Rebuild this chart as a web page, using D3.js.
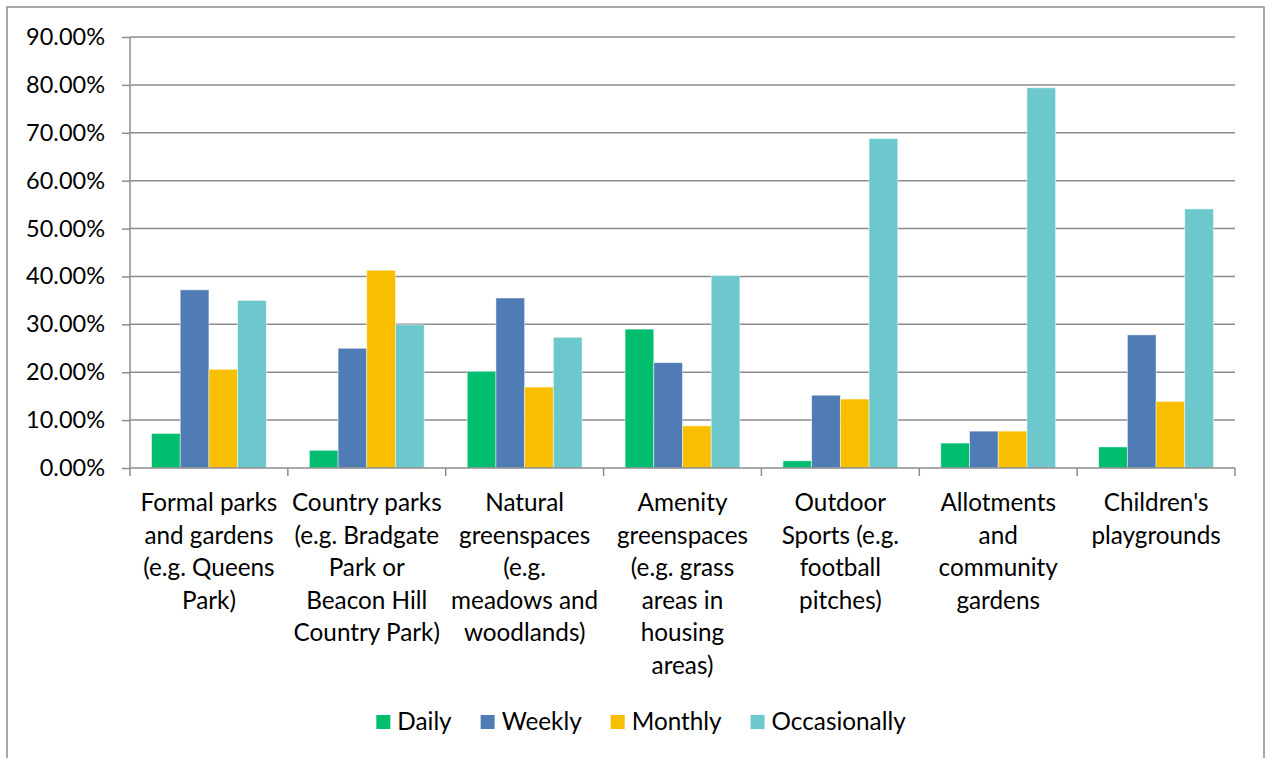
<!DOCTYPE html>
<html>
<head>
    <meta charset="utf-8">
    <title>Greenspace visits</title>
    <script src="https://cdn.jsdelivr.net/npm/d3@7"></script>
    <style>
        body { margin: 0; background: #fff; }
        text { font-family: Lato, "Open Sans", sans-serif; fill: #000; }
    </style>
</head>
<body>
<script>
    // chart data
    var categories = [
        ["Formal parks", "and gardens", "(e.g. Queens", "Park)"],
        ["Country parks", "(e.g. Bradgate", "Park or", "Beacon Hill", "Country Park)"],
        ["Natural", "greenspaces", "(e.g.", "meadows and", "woodlands)"],
        ["Amenity", "greenspaces", "(e.g. grass", "areas in", "housing", "areas)"],
        ["Outdoor", "Sports (e.g.", "football", "pitches)"],
        ["Allotments", "and", "community", "gardens"],
        ["Children's", "playgrounds"]
    ];
    var seriesNames = ["Daily", "Weekly", "Monthly", "Occasionally"];
    var daily = [7.2, 3.7, 20.2, 29.0, 1.5, 5.2, 4.4];
    var weekly = [37.2, 25.0, 35.5, 22.0, 15.2, 7.7, 27.8];
    var monthly = [20.6, 41.3, 16.9, 8.8, 14.4, 7.7, 13.9];
    var occasionally = [35.0, 29.9, 27.3, 40.2, 68.8, 79.4, 54.1];
    var yTicks = [0, 10, 20, 30, 40, 50, 60, 70, 80, 90];

    var series = [daily, weekly, monthly, occasionally];
    var colors = ["#00BE6E", "#4F7CB5", "#F8BE00", "#6CC8CC"];

    var width = 1266;
    var height = 758;
    var margin = {top: 37, right: 31, bottom: 290, left: 130};
    var tickFont = 23.5;
    var labelFont = 24.3;

    var svg = d3.select("body")
        .append("svg")
        .attr("width", width)
        .attr("height", height);

    // outer frame, cut by the bottom of the picture
    svg.append("rect")
        .attr("x", 7).attr("y", 7)
        .attr("width", 1257).attr("height", 780)
        .attr("fill", "none")
        .attr("stroke", "#8c8c8c")
        .attr("stroke-width", 1.5);

    var x0 = d3.scaleBand()
        .domain(d3.range(categories.length))
        .range([margin.left, width - margin.right]);

    // gap width 150%: group of 4 bars + 1.5 bar of gap
    var x1 = d3.scaleBand()
        .domain(d3.range(series.length))
        .range([x0.bandwidth() * 0.75 / 5.5, x0.bandwidth() * (1 - 0.75 / 5.5)])
        .padding(0);

    var y = d3.scaleLinear()
        .domain([0, 90])
        .range([height - margin.bottom, margin.top]);

    // gridlines
    svg.append("g")
        .selectAll("line")
        .data(yTicks.slice(1))
        .enter()
        .append("line")
        .attr("x1", margin.left)
        .attr("x2", width - margin.right)
        .attr("y1", function(d){ return y(d); })
        .attr("y2", function(d){ return y(d); })
        .attr("stroke", "#8c8c8c")
        .attr("stroke-width", 1.5);

    // bars
    var groups = svg.append("g")
        .selectAll("g")
        .data(categories)
        .enter()
        .append("g")
        .attr("transform", function(d, i){ return "translate(" + x0(i) + ",0)"; });

    groups.selectAll("rect")
        .data(function(d, i){
            return series.map(function(s, k){ return {k: k, v: s[i]}; });
        })
        .enter()
        .append("rect")
        .attr("x", function(d){ return x1(d.k); })
        .attr("width", x1.bandwidth())
        .attr("y", function(d){ return y(d.v); })
        .attr("height", function(d){ return y(0) - y(d.v); })
        .attr("fill", function(d){ return colors[d.k]; })
        .attr("stroke", "rgba(255,255,255,0.6)")
        .attr("stroke-width", 0.8);

    // y axis
    var yAxis = d3.axisLeft(y)
        .tickValues(yTicks)
        .tickSize(8)
        .tickPadding(17)
        .tickFormat(function(d){ return d.toFixed(2) + "%"; });

    var gy = svg.append("g")
        .attr("transform", "translate(" + margin.left + ",0)")
        .call(yAxis);
    gy.select(".domain").attr("stroke", "#8c8c8c").attr("stroke-width", 1.5)
        .attr("d", "M0," + y(90) + "V" + y(0));
    gy.selectAll(".tick line").attr("stroke", "#8c8c8c").attr("stroke-width", 1.5);
    gy.selectAll(".tick text")
        .attr("font-family", "Lato, sans-serif")
        .attr("font-size", tickFont)
        .attr("fill", "#000");

    // x axis with ticks between categories
    var xEdges = d3.range(categories.length + 1).map(function(i){
        return i < categories.length ? x0(i) : x0(i - 1) + x0.bandwidth();
    });
    svg.append("line")
        .attr("x1", margin.left).attr("x2", width - margin.right)
        .attr("y1", y(0)).attr("y2", y(0))
        .attr("stroke", "#8c8c8c").attr("stroke-width", 1.5);
    svg.append("g")
        .selectAll("line")
        .data(xEdges)
        .enter()
        .append("line")
        .attr("x1", function(d){ return d; })
        .attr("x2", function(d){ return d; })
        .attr("y1", y(0))
        .attr("y2", y(0) + 8)
        .attr("stroke", "#8c8c8c")
        .attr("stroke-width", 1.5);

    // category labels
    var labels = svg.append("g")
        .selectAll("text")
        .data(categories)
        .enter()
        .append("text")
        .attr("text-anchor", "middle")
        .attr("font-size", labelFont)
        .attr("x", function(d, i){ return x0(i) + x0.bandwidth() / 2; })
        .attr("y", 511);

    labels.selectAll("tspan")
        .data(function(d){ return d; })
        .enter()
        .append("tspan")
        .attr("x", function(){ return d3.select(this.parentNode).attr("x"); })
        .attr("dy", function(d, i){ return i === 0 ? 0 : 32.5; })
        .text(function(d){ return d; });

    // legend
    var legend = svg.append("g");
    var items = legend.selectAll("g")
        .data(seriesNames)
        .enter()
        .append("g");
    items.append("rect")
        .attr("width", 14).attr("height", 14)
        .attr("y", 715)
        .attr("fill", function(d, i){ return colors[i]; });
    items.append("text")
        .attr("x", 21)
        .attr("y", 730)
        .attr("font-size", labelFont)
        .text(function(d){ return d; });

    var offset = 0;
    var positions = [];
    items.each(function(){
        var w = this.querySelector("text").getComputedTextLength();
        positions.push(offset);
        offset += 21 + w + 29;
    });
    var total = offset - 29;
    var start = 641 - total / 2;
    items.attr("transform", function(d, i){ return "translate(" + (start + positions[i]) + ",0)"; });
</script>
</body>
</html>
